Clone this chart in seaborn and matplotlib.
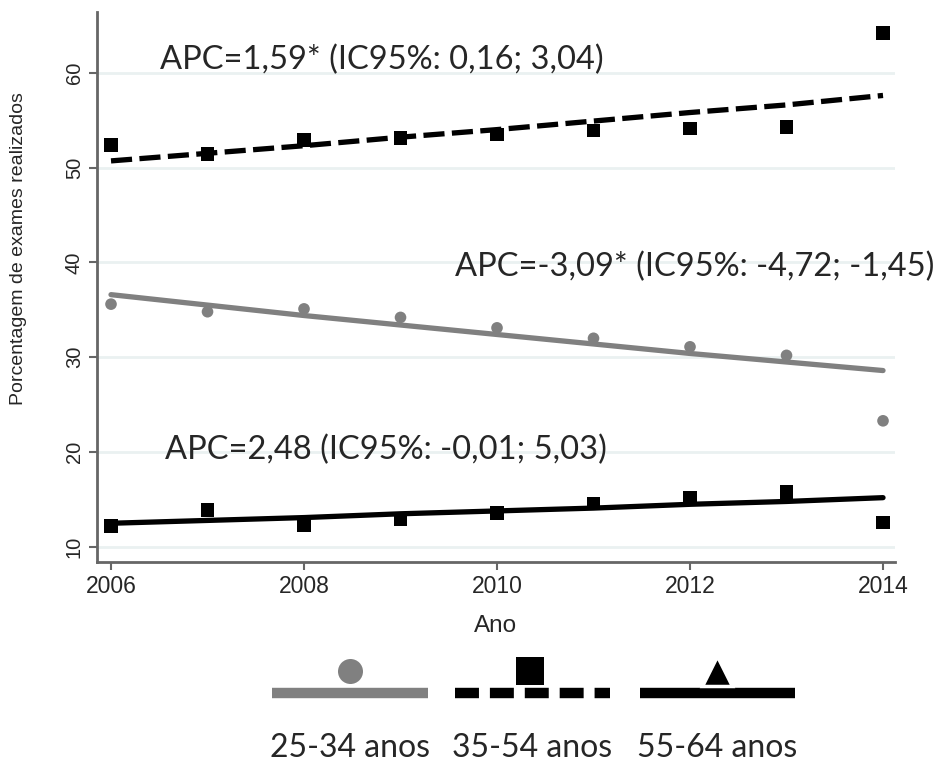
import matplotlib
matplotlib.use("Agg")
import matplotlib.pyplot as plt
import seaborn as sns
import pandas as pd

anos = [2006, 2007, 2008, 2009, 2010, 2011, 2012, 2013, 2014]
obs_25_34 = [35.6, 34.8, 35.1, 34.2, 33.1, 32.0, 31.1, 30.2, 23.3]
obs_35_54 = [52.4, 51.4, 52.9, 53.1, 53.5, 53.9, 54.1, 54.3, 64.2]
obs_55_64 = [12.2, 13.9, 12.3, 12.9, 13.6, 14.6, 15.2, 15.8, 12.6]

# fitted trend lines (joinpoint)
fit_25_34 = [36.6, 35.5, 34.4, 33.4, 32.4, 31.4, 30.4, 29.5, 28.6]
fit_35_54 = [50.7, 51.5, 52.3, 53.2, 54.0, 54.9, 55.8, 56.6, 57.6]
fit_55_64 = [12.5, 12.8, 13.1, 13.5, 13.8, 14.1, 14.5, 14.8, 15.2]

grupos = ["25-34 anos", "35-54 anos", "55-64 anos"]
apc_textos = ["APC=-3,09* (IC95%: -4,72; -1,45)",
              "APC=1,59* (IC95%: 0,16; 3,04)",
              "APC=2,48 (IC95%: -0,01; 5,03)"]

df = pd.DataFrame({
    "ano": anos * 3,
    "obs": obs_25_34 + obs_35_54 + obs_55_64,
    "fit": fit_25_34 + fit_35_54 + fit_55_64,
    "grupo": [g for g in grupos for _ in anos],
})

sns.set_style("white")
plt.rcParams["font.family"] = ["Liberation Sans", "DejaVu Sans"]
fonte_txt = ["Lato", "DejaVu Sans"]

cores = {"25-34 anos": "#808080", "35-54 anos": "black", "55-64 anos": "black"}
marcadores = {"25-34 anos": "o", "35-54 anos": "s", "55-64 anos": "s"}
estilos = {"25-34 anos": "-", "35-54 anos": (0, (4, 1.4)), "55-64 anos": "-"}

fig = plt.figure(figsize=(9.41, 7.62), dpi=100)
ax = fig.add_axes([0.1031, 0.2625, 0.848, 0.7218])

for g in grupos:
    d = df[df["grupo"] == g]
    sns.lineplot(data=d, x="ano", y="fit", ax=ax, color=cores[g],
                 linewidth=3.8, linestyle=estilos[g], zorder=2)
    sns.scatterplot(data=d, x="ano", y="obs", ax=ax, color=cores[g],
                    marker=marcadores[g], s=95 if g != "25-34 anos" else 70,
                    edgecolor="none", zorder=3)

ax.set_xlim(2005.855, 2014.124)
ax.set_ylim(8.42, 66.4)
ax.set_xticks([2006, 2008, 2010, 2012, 2014])
ax.set_yticks([10, 20, 30, 40, 50, 60])
ax.grid(axis="y", color="#eaf1f1", linewidth=2)
ax.grid(axis="x", visible=False)
for s in ["top", "right"]:
    ax.spines[s].set_visible(False)
for s in ["left", "bottom"]:
    ax.spines[s].set_color("#666666")
    ax.spines[s].set_linewidth(2)
ax.tick_params(axis="both", which="major", length=6, width=1.5,
               color="#666666", bottom=True, left=True)
ax.tick_params(axis="x", labelsize=16.5)
ax.tick_params(axis="y", labelsize=14.5)
plt.setp(ax.get_yticklabels(), rotation=90, va="center")
ax.set_xlabel("Ano", fontsize=17.5, labelpad=12)
ax.set_ylabel("Porcentagem de exames realizados", fontsize=14)
ax.yaxis.set_label_coords(-0.088, 0.57)

# APC annotations
ax.text(2006.51, 61.3, apc_textos[1], fontsize=23.5, family=fonte_txt, va="center")
ax.text(2009.56, 39.5, apc_textos[0], fontsize=23.5, family=fonte_txt, va="center")
ax.text(2006.56, 20.2, apc_textos[2], fontsize=23.5, family=fonte_txt, va="center")

# custom legend: marker above line, label below
lg = fig.add_axes([0, 0, 1, 0.16])
lg.set_xlim(0, 941)
lg.set_ylim(122, 0)
lg.axis("off")
itens = [(272, 428, 350), (455, 610, 530), (640, 795, 717)]
for g, (x0, x1, xm) in zip(grupos, itens):
    ls = "-" if g != "35-54 anos" else (0, (2.3, 1.05))
    lg.plot([x0, x1], [693 - 640, 693 - 640], color=cores[g], linewidth=7.5, linestyle=ls,
            solid_capstyle="butt", dash_capstyle="butt", zorder=1)
    mk = {"25-34 anos": "o", "35-54 anos": "s", "55-64 anos": "^"}[g]
    lg.plot([xm], [671 - 640], marker=mk, color=cores[g],
            markersize={"o": 18, "s": 20, "^": 22}[mk],
            markeredgewidth=2.5 if mk == "^" else 0, markeredgecolor="white",
            linestyle="none", zorder=2)
    lg.text((x0 + x1) / 2, 748 - 640, g, ha="center", va="center", fontsize=23,
            family=fonte_txt)

fig.savefig("out.png", dpi=100, facecolor="white")
